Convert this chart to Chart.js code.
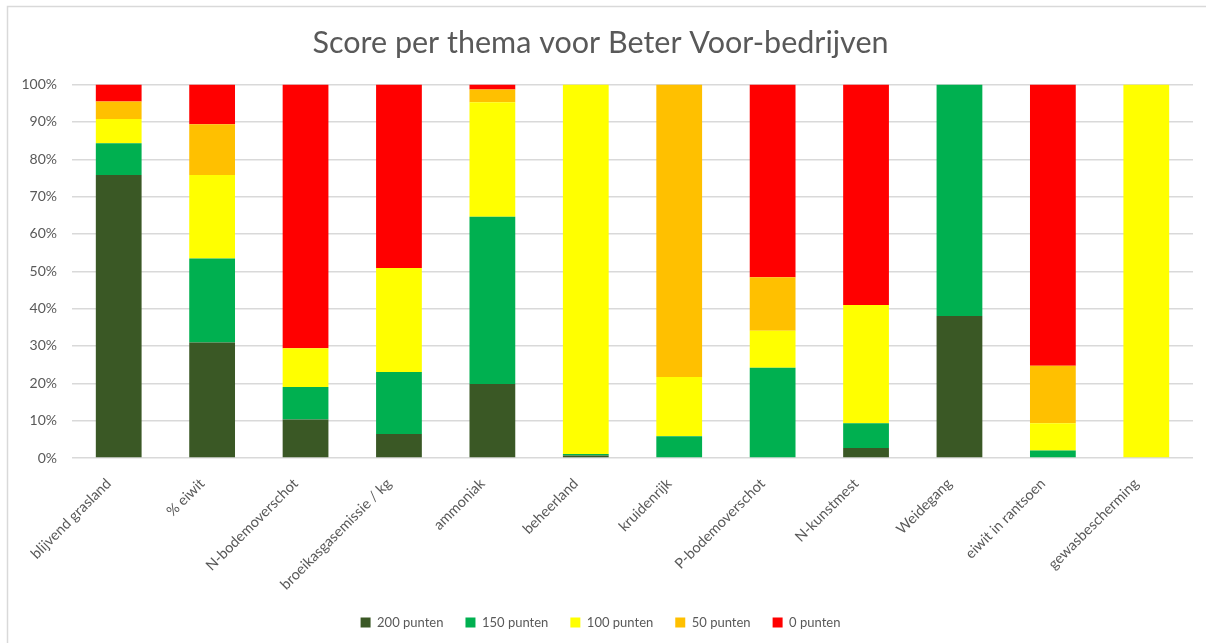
<!DOCTYPE html>
<html>
<head>
<meta charset="utf-8">
<script src="https://cdn.jsdelivr.net/npm/chart.js@4/dist/chart.umd.min.js"></script>
<style>
  html, body { margin: 0; padding: 0; background: #fff; }
  #wrap { width: 1206px; height: 643px; position: relative; }
</style>
</head>
<body>
<div id="wrap"><canvas id="c" width="1206" height="643"></canvas></div>
<script>
const categories = ["blijvend grasland", "% eiwit", "N-bodemoverschot", "broeikasgasemissie / kg", "ammoniak", "beheerland", "kruidenrijk", "P-bodemoverschot", "N-kunstmest", "Weidegang", "eiwit in rantsoen", "gewasbescherming"];
const seriesNames = ["200 punten", "150 punten", "100 punten", "50 punten", "0 punten"];
const punten200 = [75.8, 30.9, 10.3, 6.4, 19.8, 0.7, 0, 0, 2.7, 38.0, 0, 0];
const punten150 = [8.5, 22.5, 8.7, 16.6, 44.8, 0.4, 5.8, 24.2, 6.6, 62.0, 2.0, 0];
const punten100 = [6.5, 22.4, 10.4, 27.9, 30.7, 98.9, 15.9, 9.9, 31.7, 0, 7.3, 100];
const punten50  = [4.7, 13.6, 0, 0, 3.4, 0, 78.3, 14.3, 0, 0, 15.4, 0];
const punten0   = [4.5, 10.6, 70.6, 49.1, 1.3, 0, 0, 51.6, 59.0, 0, 75.3, 0];
const yTicks = [0, 10, 20, 30, 40, 50, 60, 70, 80, 90, 100];
const colors = ["#3a5825", "#00b050", "#ffff00", "#ffc000", "#ff0000"];

const textColor = "#595959";
const fontFam = "Lato, 'Open Sans', sans-serif";

const frame = {
  id: 'frame',
  afterDraw(chart) {
    const ctx = chart.ctx;
    ctx.save();
    ctx.strokeStyle = "#d9d9d9";
    ctx.lineWidth = 1.5;
    ctx.beginPath();
    ctx.moveTo(7.5, 643);
    ctx.lineTo(7.5, 6.5);
    ctx.lineTo(1206, 6.5);
    ctx.stroke();
    ctx.restore();
  }
};

const allSeries = [punten200, punten150, punten100, punten50, punten0];

new Chart(document.getElementById('c'), {
  type: 'bar',
  data: {
    labels: categories,
    datasets: allSeries.map((d, i) => ({
      label: seriesNames[i],
      data: d,
      backgroundColor: colors[i],
      borderWidth: 0,
      categoryPercentage: 1,
      barPercentage: 0.49
    }))
  },
  options: {
    responsive: false,
    animation: false,
    devicePixelRatio: 1,
    layout: { padding: { left: 8, right: 13, top: 10, bottom: 4 } },
    plugins: {
      tooltip: { enabled: false },
      title: {
        display: true,
        text: "Score per thema voor Beter Voor-bedrijven",
        color: textColor,
        font: { family: fontFam, size: 30.5, weight: 'normal' },
        padding: { top: 15, bottom: 23 }
      },
      legend: {
        position: 'bottom',
        labels: {
          color: textColor,
          font: { family: fontFam, size: 13 },
          boxWidth: 10,
          boxHeight: 10,
          padding: 22
        }
      }
    },
    scales: {
      x: {
        stacked: true,
        grid: { display: false },
        border: { display: false },
        ticks: {
          color: textColor,
          font: { family: fontFam, size: 14.5 },
          minRotation: 45,
          maxRotation: 45,
          padding: 9,
          labelOffset: -10,
          autoSkip: false
        },
        afterFit(scale) { scale.height = 136; }
      },
      y: {
        stacked: true,
        min: 0,
        max: 100,
        afterBuildTicks(scale) { scale.ticks = yTicks.map(v => ({ value: v })); },
        grid: { color: "#d9d9d9", lineWidth: 1.5, drawTicks: false },
        border: { display: false },
        ticks: {
          color: textColor,
          font: { family: fontFam, size: 14 },
          padding: 15,
          callback: v => v + "%"
        },
        afterFit(scale) { scale.width = 64; }
      }
    }
  },
  plugins: [frame]
});
</script>
</body>
</html>
